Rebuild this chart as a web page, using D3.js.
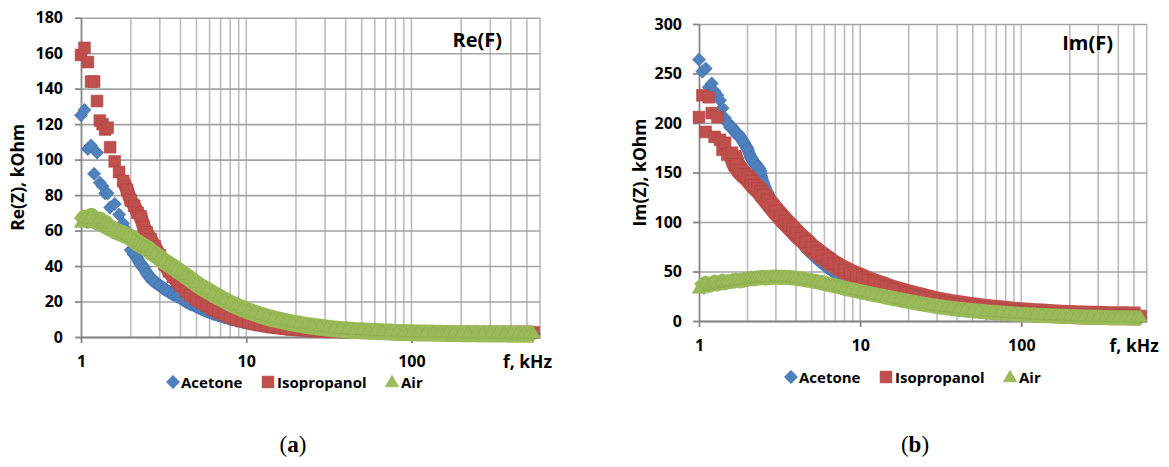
<!DOCTYPE html>
<html>
<head>
<meta charset="utf-8">
<script src="https://cdn.jsdelivr.net/npm/d3@7"></script>
<style>
body{margin:0;background:#fff;}
text{font-family:"Open Sans",sans-serif;font-weight:bold;fill:#000;}
</style>
</head>
<body>
<svg id="canvas"></svg>
<script>
// frequency points, kHz
let freq=[1.0,1.05,1.1,1.15,1.2,1.25,1.3,1.35,1.4,1.45,
  1.5,1.6,1.7,1.8,1.9,2.0,2.1,2.2,2.3,2.4,
  2.5,2.65,2.8,3.0,3.2,3.4,3.6,3.8,4.0,4.3,
  4.6,5.0,5.4,5.8,6.3,6.8,7.4,8.0,8.7,9.5,
  10.3,11.2,12.2,13.3,14.5,16,17.5,19,21,23,
  25,28,31,34,37,41,45,50,55,61,
  67,74,82,90,100,110,122,135,150,165,
  180,200,220,245,270,300,330,365,400,440,
  480,520,550];

let seriesNames=["Acetone","Isopropanol","Air"];

// Re(Z), kOhm
let acetoneRe=[125,128,106,108,92,104,87,85,81,81,
  73,75,69,64,60,49,47,44,41,39,
  36,33,31,29,27,25.5,24,23,22,20,
  18.5,17,15.5,14.3,13,12,11,10,9.2,8.4,
  7.7,7,6.4,5.9,5.4,4.9,4.5,4.2,3.9,3.6,
  3.4,3.2,3,2.9,2.8,2.7,2.6,2.5,2.4,2.3,
  2.3,2.2,2.2,2.1,2.1,2,2,2,1.9,1.9,
  1.9,1.9,1.8,1.8,1.8,1.8,1.8,1.7,1.7,1.7,
  1.7,1.7,1.7];
let isopropanolRe=[159,163,155,144,144,133,122,120,117,118,
  107,99,93,88,83,77,74,70,68,62,
  59,55,51,46,41,37,34,31.5,29,26,
  23.5,21,19.3,17.5,15.5,14,12.5,11.2,10,9,
  8.2,7.4,6.8,6.2,5.7,5.2,4.8,4.5,4.2,3.9,
  3.7,3.5,3.3,3.2,3.1,3,2.9,2.85,2.8,2.75,
  2.7,2.7,2.65,2.6,2.6,2.6,2.55,2.55,2.5,2.5,
  2.5,2.5,2.5,2.5,2.5,2.5,2.5,2.5,2.5,2.5,
  2.5,2.5,2.6];
let airRe=[64,67,66,68,66,65,66,63.5,64,62,
  61.5,60,59,58,57,56,54.5,53,52,51,
  50,48,46.5,44.5,42.5,41,39.5,38,36.5,34.5,
  32.5,30,28,26.3,24.3,22.5,20.7,19,17.5,16,
  14.7,13.5,12.3,11.3,10.3,9.4,8.6,7.9,7.2,6.6,
  6.1,5.5,5,4.6,4.3,4,3.7,3.5,3.3,3.1,
  2.9,2.8,2.6,2.5,2.4,2.3,2.2,2.1,2.05,2,
  1.95,1.9,1.85,1.8,1.75,1.7,1.7,1.65,1.6,1.6,
  1.55,1.5,1.5];

// Im(Z), kOhm
let acetoneIm=[264,252,255,236,240,232,228,223,215,205,
  200,195,190,186,180,174,165,160,156,152,
  140,130,122,113,107,101,96,91,86,80,
  74,68,63,58.5,54,50,46,43,40,37,
  34.5,32,29.5,27.5,25.5,23.5,21.5,20,18.5,17,
  16,14.6,13.4,12.4,11.6,10.8,10,9.3,8.7,8.1,
  7.6,7.1,6.7,6.3,5.9,5.6,5.3,5,4.8,4.6,
  4.4,4.2,4,3.9,3.8,3.7,3.6,3.5,3.4,3.3,
  3.3,3.2,3.2];
let isopropanolIm=[206,228,191,226,210,186,206,183,173,180,
  168,170,158,152,148,145,141,137,134,131,
  127,122,117,111,106,101,97,93,89,84,
  80,74,70,66,62,58,54.5,51.5,48.5,46,
  43.5,41,38.5,36.5,34.5,32,30,28.5,26.5,25,
  23.5,21.5,20,18.7,17.6,16.5,15.5,14.5,13.6,12.8,
  12,11.3,10.6,10,9.4,8.9,8.4,8,7.6,7.2,
  6.9,6.6,6.3,6.1,5.9,5.7,5.5,5.4,5.3,5.2,
  5.1,5,5];
let airIm=[32,35,38,36,37,39,37.5,38.5,40,38.5,
  39.5,40,41,40.5,41.5,42,43,42.5,43.5,43.5,
  44,43.5,44,44.5,44,44,44,43.5,43,42.5,
  41.5,40.5,39.5,38.5,37,36,34.5,33,31.8,30.5,
  29.2,28,26.7,25.5,24.2,22.8,21.5,20.3,19,17.8,
  16.8,15.5,14.4,13.5,12.7,11.9,11.2,10.4,9.8,9.1,
  8.6,8,7.5,7.1,6.7,6.3,5.9,5.6,5.3,5,
  4.8,4.5,4.3,4.1,3.9,3.7,3.6,3.4,3.3,3.2,
  3.1,3,3];

let reTicks=[0,20,40,60,80,100,120,140,160,180];
let imTicks=[0,50,100,150,200,250,300];
let freqTicks=[1,10,100];
let freqGrid=[2,3,4,5,6,7,8,9,10,20,30,40,50,60,70,80,90,100,200,300,400,500,600];

let width=1169;
let height=467;

let colors=["#4F81BD","#C0504D","#9BBB59"];
let outlines=["#3D6DA6","#A9423F","#87A84B"];
let symbols=[
  {type:d3.symbolSquare,size:88,rot:45},
  {type:d3.symbolSquare,size:140,rot:0},
  {type:d3.symbolTriangle,size:78,rot:0}
];

let canvas=d3.select("#canvas")
canvas.attr('width',width)
canvas.attr('height',height)

function symbolPath(i){
  return d3.symbol().type(symbols[i].type).size(symbols[i].size)();
}

function drawPanel(p){
  let g=canvas.append('g');
  let xscale=d3.scaleLog().domain([1,600]).range([p.left,p.right]);
  let yscale=d3.scaleLinear().domain([0,p.yTicks[p.yTicks.length-1]]).range([p.bottom,p.top]);

  // vertical gridlines
  g.append('g').selectAll('line')
    .data(freqGrid)
    .enter()
    .append('line')
    .attr('x1',d=>xscale(d)).attr('x2',d=>xscale(d))
    .attr('y1',p.top).attr('y2',p.bottom)
    .attr('stroke','#bcbcbc')
    .attr('stroke-width',1.6);

  // horizontal gridlines
  let yGrid=d3.axisLeft(yscale).tickValues(p.yTicks).tickSize(-(p.right-p.left)).tickFormat('');
  g.append('g')
    .attr('transform','translate('+p.left+',0)')
    .call(yGrid)
    .call(a=>a.select('.domain').remove())
    .selectAll('line')
    .attr('stroke','#a3a3a3')
    .attr('stroke-width',1.6);

  let yAxis=d3.axisLeft(yscale).tickValues(p.yTicks).tickSize(6).tickSizeOuter(0).tickPadding(p.yPad);
  g.append('g')
    .attr('transform','translate('+p.left+',0)')
    .call(yAxis)
    .attr('font-size',16)
    .attr('font-family','"Open Sans",sans-serif')
    .call(a=>a.selectAll('line,path').attr('stroke','#878787').attr('stroke-width',1.8));

  let xAxis=d3.axisBottom(xscale).tickValues(freqTicks).tickFormat(d3.format('d')).tickSize(6).tickSizeOuter(0).tickPadding(12.5);
  g.append('g')
    .attr('transform','translate(0,'+p.bottom+')')
    .call(xAxis)
    .attr('font-size',16)
    .attr('font-family','"Open Sans",sans-serif')
    .call(a=>a.selectAll('line,path').attr('stroke','#878787').attr('stroke-width',1.8));

  // dense measurement points merge into a band
  let line=d3.line().x(d=>xscale(d.f)).y(d=>yscale(d.v));
  p.values.forEach((vals,i)=>{
    let pts=freq.map((f,j)=>({f:f,v:vals[j]}));
    g.append('path')
      .datum(pts.filter(d=>d.f>=p.bandFrom[i]))
      .attr('d',line)
      .attr('fill','none')
      .attr('stroke',colors[i])
      .attr('stroke-width',p.bandWidth[i])
      .attr('stroke-linejoin','round');
    g.append('g').selectAll('path')
      .data(pts)
      .enter()
      .append('path')
      .attr('d',symbolPath(i))
      .attr('transform',d=>'translate('+xscale(d.f)+','+yscale(d.v)+') rotate('+symbols[i].rot+')')
      .attr('fill',colors[i])
      .attr('stroke',outlines[i])
      .attr('stroke-width',0.5);
  });

  // inner title
  g.append('text')
    .attr('x',p.titleX).attr('y',p.titleY)
    .attr('text-anchor','end')
    .attr('font-size',20)
    .text(p.title);

  // axis titles
  g.append('text')
    .attr('transform','translate('+p.yTitleX+','+((p.top+p.bottom)/2)+') rotate(-90)')
    .attr('text-anchor','middle')
    .attr('font-size',17.5)
    .text(p.yTitle);
  g.append('text')
    .attr('x',p.right+12).attr('y',p.bottom+31)
    .attr('text-anchor','end')
    .attr('font-size',17.5)
    .text('f, kHz');

  // legend
  let offs=[[92,100],[187,196],[311,320]];
  seriesNames.forEach((name,i)=>{
    g.append('path')
      .attr('d',symbolPath(i))
      .attr('transform','translate('+(p.left+offs[i][0])+','+(p.legendY+(i==2?1:0))+') rotate('+symbols[i].rot+')')
      .attr('fill',colors[i])
      .attr('stroke',outlines[i])
      .attr('stroke-width',0.5);
    g.append('text')
      .attr('x',p.left+offs[i][1]).attr('y',p.legendY+5.5)
      .attr('font-size',15)
      .text(name);
  });

  // caption
  let cap=g.append('text')
    .attr('x',p.capX).attr('y',452)
    .attr('text-anchor','middle')
    .attr('font-size',23)
    .style('font-family','"Liberation Serif",serif')
    .style('font-weight','normal');
  cap.append('tspan').text('(');
  cap.append('tspan').style('font-weight','bold').text(p.cap);
  cap.append('tspan').text(')');
}

drawPanel({
  left:81,right:540,top:17.7,bottom:337,
  yTicks:reTicks,yPad:12,
  values:[acetoneRe,isopropanolRe,airRe],
  bandFrom:[2.0,1.8,1.0],bandWidth:[12,14,17],
  title:'Re(F)',titleX:502,titleY:47,
  yTitle:'Re(Z), kOhm',yTitleX:24,
  legendY:382,capX:293,cap:'a'
});

drawPanel({
  left:699,right:1146.7,top:24,bottom:321,
  yTicks:imTicks,yPad:11,
  values:[acetoneIm,isopropanolIm,airIm],
  bandFrom:[1.5,1.6,1.0],bandWidth:[12,19,15],
  title:'Im(F)',titleX:1113,titleY:50,
  yTitle:'Im(Z), kOhm',yTitleX:646,
  legendY:377,capX:915,cap:'b'
});
</script>
</body>
</html>
